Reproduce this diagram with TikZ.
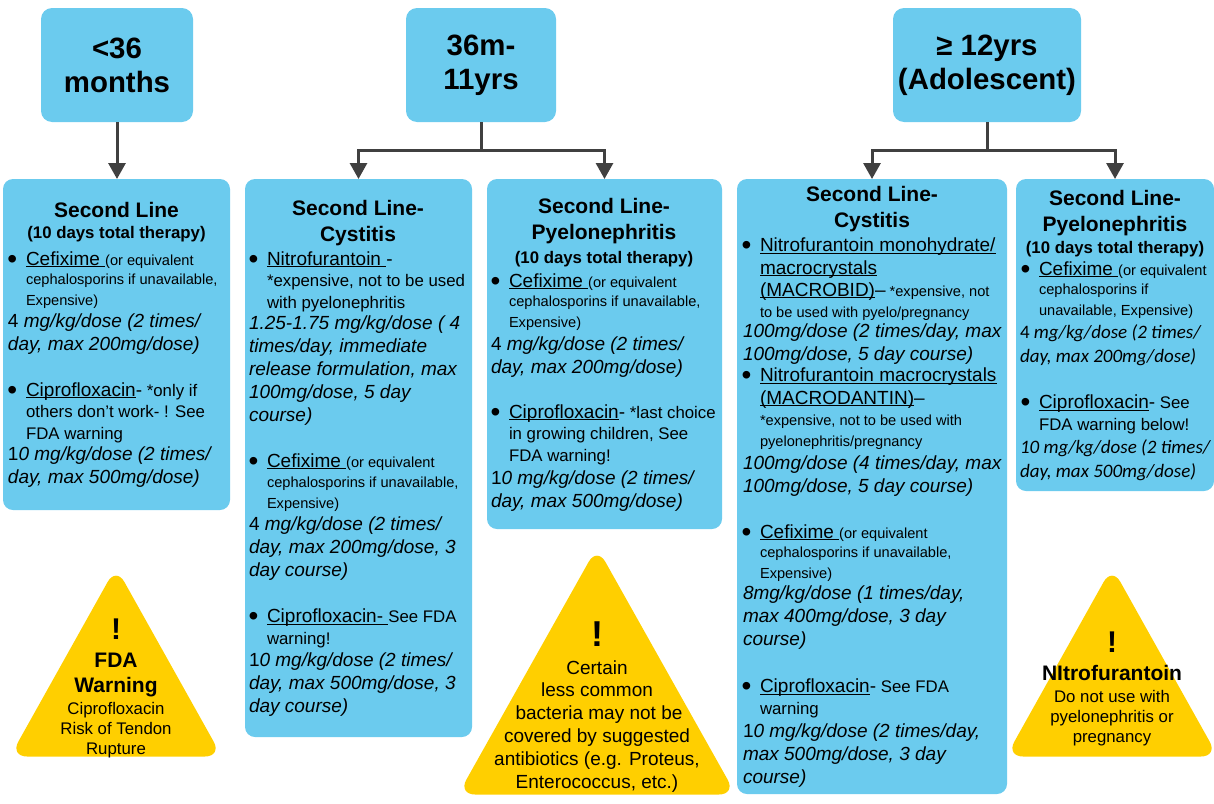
\documentclass[tikz,border=0pt]{standalone}
\usepackage{fontspec}
\setmainfont{Liberation Sans}
\newfontfamily\califont{Carlito}
\usetikzlibrary{positioning, arrows.meta}

\definecolor{boxblue}{HTML}{6BCBEE}
\definecolor{warnyellow}{HTML}{FFCF00}
\definecolor{connectgrey}{HTML}{404040}

% 1pt in the picture is 1px in the reference
\newcommand{\bigtx}[1]{{\fontsize{19}{19}\selectfont #1}}
\newcommand{\drug}[1]{\setbox0\hbox{\fontsize{19}{19}\selectfont #1}\rlap{\rule[-2.2pt]{\wd0}{1pt}}\box0\relax}
\newcommand{\bul}{\leavevmode\llap{\raisebox{-3.3pt}{\fontsize{28}{28}\selectfont\textbullet}\hspace{8.7pt}}}

\begin{document}
\begin{tikzpicture}[x=1pt, y=-1pt,
        every node/.style={inner sep=0pt, outer sep=0pt},
        agebox/.style={fill=boxblue, rounded corners=11pt, minimum height=114pt, align=center, font=\fontsize{29.4}{34}\selectfont\bfseries},
        linebox/.style={fill=boxblue, rounded corners=10pt},
        headtext/.style={anchor=base, align=center, font=\fontsize{21}{25.5}\selectfont\bfseries},
        subtext/.style={anchor=base, font=\fontsize{16.8}{20}\selectfont\bfseries},
        itemsmall/.style={anchor=base west, align=left, font=\fontsize{14.6}{21}\selectfont},
        itemmid/.style={anchor=base west, align=left, font=\fontsize{16.8}{21.5}\selectfont},
        dosetext/.style={anchor=base west, align=left, font=\fontsize{19}{23}\selectfont\itshape},
        dosecali/.style={anchor=base west, align=left, font=\fontsize{19}{23.6}\selectfont\califont\itshape},
        warnfill/.style={fill=warnyellow, rounded corners=17pt},
        warnmark/.style={anchor=base, font=\fontsize{30}{30}\selectfont\bfseries},
        warnhead/.style={anchor=base, align=center, font=\fontsize{21}{25}\selectfont\bfseries},
        warntext/.style={anchor=base, align=center, font=\fontsize{16.8}{20}\selectfont},
        warnbig/.style={anchor=base, align=center, font=\fontsize{19}{22.8}\selectfont},
        connect/.style={draw=connectgrey, line width=3pt},
        arrowed/.style={connect, -{Triangle[length=16pt, width=17pt]}}]
    \useasboundingbox (0,0) rectangle (1214,803);

    % age groups
    \node[agebox, minimum width=152pt] (young) at (117,65) {<36\\months};
    \node[agebox, minimum width=150pt] (middle) at (481,65) {36m-\\11yrs};
    \node[agebox, minimum width=188pt] (teen) at (987,65) {≥ 12yrs\\(Adolescent)};

    % second line boxes
    \node[linebox, minimum width=227pt, minimum height=331pt] (lineA) at (116.5,344.5) {};
    \node[linebox, minimum width=227pt, minimum height=558pt] (lineB) at (358.5,458) {};
    \node[linebox, minimum width=235pt, minimum height=350pt] (lineC) at (604.5,354) {};
    \node[linebox, minimum width=270pt, minimum height=615pt] (lineD) at (872,486.5) {};
    \node[linebox, minimum width=198pt, minimum height=312pt] (lineE) at (1115,335) {};

    \coordinate (forkB) at (481,150);
    \coordinate (forkC) at (987,150);
    \draw[arrowed] (young.south) -- (young.south |- lineA.north);
    \draw[connect] (middle.south) -- (forkB);
    \draw[arrowed] (forkB) -| (lineB.north);
    \draw[arrowed] (forkB) -| (lineC.north);
    \draw[connect] (teen.south) -- (forkC);
    \draw[arrowed] (forkC) -| (lineD.north);
    \draw[arrowed] (forkC) -| (lineE.north);

    % box A
    \node[headtext] (headA) at (116.5,217) {Second Line};
    \node[subtext] (subA) at (116.5,238) {(10 days total therapy)};
    \node[itemsmall] (cefA) at (26,305) {\bul\drug{Cefixime\ }(or equivalent\\[-2pt]cephalosporins if unavailable,\\Expensive)};
    \node[dosetext] (cefdoseA) at (8,350) {{\upshape 4} mg/kg/dose (2 times/\\day, max 200mg/dose)};
    \node[itemmid] (ciproA) at (26,439) {\bul\drug{Ciprofloxacin}\bigtx{-} *only if\\others don’t work- ! See\\FDA warning};
    \node[dosetext] (ciprodoseA) at (8,483) {{\upshape 1}0 mg/kg/dose (2 times/\\day, max 500mg/dose)};

    % box B
    \node[headtext] (headB) at (358,241) {Second Line-\\Cystitis};
    \node[itemmid] (nitroB) at (267,308) {\bul\drug{Nitrofurantoin\ }\bigtx{-}\\*expensive, not to be used\\with pyelonephritis};
    \node[dosetext] (nitrodoseB) at (249,421) {1.25-1.75 mg/kg/dose ( 4\\times/day, immediate\\release formulation, max\\100mg/dose, 5 day\\course)};
    \node[itemsmall] (cefB) at (267,508) {\bul\drug{Cefixime\ }(or equivalent\\[-1pt]cephalosporins if unavailable,\\Expensive)};
    \node[dosetext] (cefdoseB) at (249,576) {{\upshape 4} mg/kg/dose (2 times/\\day, max 200mg/dose, 3\\day course)};
    \node[itemmid] (ciproB) at (267,644) {\bul\drug{Ciprofloxacin-\ }See FDA\\warning!};
    \node[dosetext] (ciprodoseB) at (249,712) {{\upshape 1}0 mg/kg/dose (2 times/\\day, max 500mg/dose, 3\\day course)};

    % box C
    \node[headtext] (headC) at (604,239) {Second Line-\\Pyelonephritis};
    \node[subtext] (subC) at (604,263) {(10 days total therapy)};
    \node[itemsmall] (cefC) at (509,327) {\bul\drug{Cefixime\ }(or equivalent\\[-2pt]cephalosporins if unavailable,\\Expensive)};
    \node[dosetext] (cefdoseC) at (491,373) {{\upshape 4} mg/kg/dose (2 times/\\day, max 200mg/dose)};
    \node[itemmid] (ciproC) at (509,461) {\bul\drug{Ciprofloxacin}\bigtx{-} *last choice\\in growing children, See\\FDA warning!};
    \node[dosetext] (ciprodoseC) at (491,507) {{\upshape 1}0 mg/kg/dose (2 times/\\day, max 500mg/dose)};

    % box D
    \node[headtext] (headD) at (872,227) {Second Line-\\Cystitis};
    \node[itemsmall] (nitroD) at (760,317) {\bul\drug{Nitrofurantoin monohydrate/}\\[1.5pt]\drug{macrocrystals}\\[1pt]\drug{(MACROBID)}\bigtx{–} *expensive, not\\to be used with pyelo/pregnancy};
    \node[dosetext] (nitrodoseD) at (743,360) {100mg/dose (2 times/day, max\\100mg/dose, 5 day course)};
    \node[itemsmall] (macroD) at (760,446) {\bul\drug{Nitrofurantoin macrocrystals}\\[1.5pt]\drug{(MACRODANTIN)}\bigtx{–}\\*expensive, not to be used with\\pyelonephritis/pregnancy};
    \node[dosetext] (macrodoseD) at (743,492) {100mg/dose (4 times/day, max\\100mg/dose, 5 day course)};
    \node[itemsmall] (cefD) at (760,578) {\bul\drug{Cefixime\ }(or equivalent\\[-2pt]cephalosporins if unavailable,\\Expensive)};
    \node[dosetext] (cefdoseD) at (743,645) {8mg/kg/dose (1 times/day,\\max 400mg/dose, 3 day\\course)};
    \node[itemmid] (ciproD) at (760,714) {\bul\drug{Ciprofloxacin}\bigtx{-} See FDA\\warning};
    \node[dosetext] (ciprodoseD) at (743,783) {{\upshape 1}0 mg/kg/dose (2 times/day,\\max 500mg/dose, 3 day\\course)};

    % box E
    \node[headtext] (headE) at (1115,231) {Second Line-\\Pyelonephritis};
    \node[subtext] (subE) at (1115,253) {(10 days total therapy)};
    \node[itemsmall] (cefE) at (1039,315) {\bul\drug{Cefixime\ }(or equivalent\\[-2pt]cephalosporins if\\unavailable, Expensive)};
    \node[dosecali] (cefdoseE) at (1020,362) {{\upshape 4} mg/kg/dose (2 times/\\day, max 200mg/dose)};
    \node[itemmid] (ciproE) at (1039,430) {\bul\drug{Ciprofloxacin}\bigtx{-} See\\FDA warning below!};
    \node[dosecali] (ciprodoseE) at (1020,477) {10 mg/kg/dose (2 times/\\day, max 500mg/dose)};

    % warnings
    \fill[warnfill] (116,567) -- (222,756.5) -- (10,756.5) -- cycle;
    \node[warnmark] (markA) at (116,639) {!};
    \node[warnhead] (warnheadA) at (116,692) {FDA\\Warning};
    \node[warntext] (warntextA) at (116,754) {Ciprofloxacin\\Risk of Tendon\\Rupture};

    \fill[warnfill] (597,547) -- (736,794.5) -- (458,794.5) -- cycle;
    \node[warnmark, font=\fontsize{36}{36}\selectfont\bfseries] (markB) at (597,646) {!};
    \node[warnbig] (warntextB) at (597,788) {Certain\\less common\\\hspace*{4pt}bacteria may not be\\covered by suggested\\antibiotics (e.g. Proteus,\\Enterococcus, etc.)};

    \fill[warnfill] (1112,567) -- (1218,756.5) -- (1006,756.5) -- cycle;
    \node[warnmark] (markC) at (1112,652) {!};
    \node[warnhead] (warnheadC) at (1112,680) {NItrofurantoin};
    \node[warntext] (warntextC) at (1112,742) {Do not use with\\pyelonephritis or\\pregnancy};
\end{tikzpicture}
\end{document}
